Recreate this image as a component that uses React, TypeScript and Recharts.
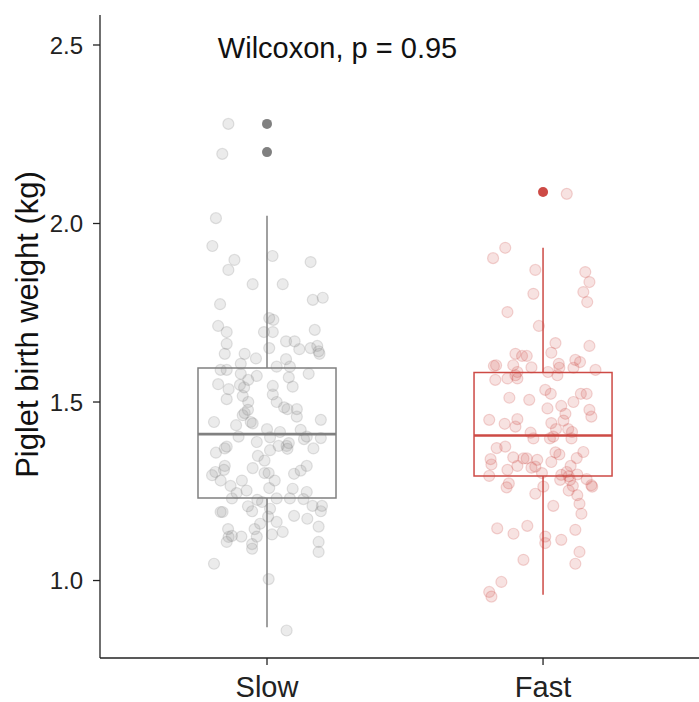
import {
  ComposedChart,
  Scatter,
  XAxis,
  YAxis,
  ReferenceArea,
  ReferenceLine,
  ReferenceDot,
} from 'recharts';

const categories = ['Slow', 'Fast'];
const yTicks = [1.0, 1.5, 2.0, 2.5];
const colors = ['#808080', '#CD4A45'];

// box statistics per group (kg)
const boxStats = [
  { lower: 0.869, q1: 1.231, median: 1.41, q3: 1.595, upper: 2.022 },
  { lower: 0.96, q1: 1.293, median: 1.406, q3: 1.583, upper: 1.932 },
];

const slowOutliers = [2.279, 2.2];
const fastOutliers = [2.088];

// jittered raw points: [x offset from group centre, weight]
const slowPoints: [number, number][] = [
  [-0.14, 2.279], [-0.162, 2.195], [-0.185, 2.015], [-0.198, 1.937], [-0.118, 1.898],
  [-0.14, 1.87], [0.02, 1.909], [0.158, 1.892], [-0.052, 1.83], [0.057, 1.83],
  [-0.17, 1.774], [0.166, 1.786], [0.202, 1.792], [-0.177, 1.713], [-0.146, 1.696],
  [0.008, 1.735], [0.023, 1.73], [-0.011, 1.696], [0.021, 1.696], [0.173, 1.702],
  [-0.146, 1.663], [-0.153, 1.635], [-0.081, 1.635], [-0.04, 1.622], [0.008, 1.651],
  [0.069, 1.67], [0.1, 1.67], [0.117, 1.648], [0.158, 1.651], [0.182, 1.657],
  [0.187, 1.642], [0.19, 1.635], [0.069, 1.62], [-0.095, 1.607], [0.035, 1.599],
  [0.083, 1.599], [-0.168, 1.59], [-0.146, 1.59], [-0.095, 1.579], [0.151, 1.579],
  [-0.068, 1.562], [-0.037, 1.573], [0.079, 1.569], [-0.177, 1.55], [-0.139, 1.536],
  [-0.098, 1.548], [-0.083, 1.541], [0.021, 1.545], [0.093, 1.543], [-0.146, 1.508],
  [-0.088, 1.517], [0.021, 1.521], [-0.068, 1.5], [0.035, 1.5], [-0.069, 1.478],
  [0.062, 1.485], [0.074, 1.48], [0.108, 1.48], [-0.088, 1.463], [-0.081, 1.469],
  [0.108, 1.459], [-0.192, 1.444], [-0.059, 1.444], [-0.052, 1.44], [0.195, 1.45],
  [-0.112, 1.435], [0.0, 1.424], [0.047, 1.416], [0.122, 1.422], [0.144, 1.403],
  [0.134, 1.396], [-0.103, 1.403], [-0.037, 1.388], [0.011, 1.401], [0.071, 1.377],
  [0.079, 1.385], [0.195, 1.399], [-0.146, 1.375], [-0.153, 1.37], [0.042, 1.377],
  [0.168, 1.37], [-0.185, 1.358], [0.011, 1.365], [0.074, 1.369], [-0.033, 1.349],
  [-0.009, 1.336], [-0.153, 1.321], [-0.156, 1.31], [-0.052, 1.315], [-0.187, 1.304],
  [-0.199, 1.295], [-0.168, 1.28], [-0.091, 1.28], [-0.009, 1.301], [0.006, 1.301],
  [0.028, 1.28], [0.098, 1.299], [0.122, 1.308], [0.144, 1.321], [-0.132, 1.265],
  [-0.074, 1.252], [0.008, 1.259], [0.093, 1.257], [0.144, 1.248], [-0.11, 1.245],
  [-0.127, 1.23], [-0.035, 1.226], [-0.018, 1.22], [0.035, 1.23], [0.083, 1.23],
  [0.132, 1.228], [-0.069, 1.208], [-0.054, 1.194], [-0.168, 1.192], [-0.161, 1.192],
  [0.011, 1.201], [0.004, 1.179], [0.165, 1.209], [0.199, 1.209], [0.195, 1.194],
  [0.098, 1.181], [0.146, 1.173], [0.035, 1.164], [-0.025, 1.159], [0.187, 1.151],
  [-0.141, 1.144], [-0.045, 1.144], [0.057, 1.136], [0.018, 1.129], [-0.139, 1.122],
  [-0.127, 1.125], [-0.093, 1.123], [-0.037, 1.123], [-0.146, 1.108], [-0.054, 1.102],
  [-0.054, 1.089], [0.187, 1.108], [0.187, 1.08], [-0.192, 1.047], [0.006, 1.004],
  [0.071, 0.86],
];

const fastPoints: [number, number][] = [
  [0.086, 2.083], [-0.137, 1.932], [-0.181, 1.903], [-0.028, 1.87], [0.153, 1.864],
  [0.168, 1.836], [-0.035, 1.803], [0.146, 1.808], [0.16, 1.78], [-0.129, 1.752],
  [-0.015, 1.713], [0.045, 1.665], [0.168, 1.657], [0.03, 1.638], [-0.1, 1.635],
  [-0.076, 1.629], [-0.059, 1.629], [0.117, 1.618], [0.134, 1.612], [-0.178, 1.601],
  [-0.17, 1.603], [-0.108, 1.603], [-0.042, 1.597], [0.057, 1.607], [0.059, 1.596],
  [0.11, 1.596], [0.19, 1.59], [-0.093, 1.584], [-0.1, 1.575], [0.018, 1.584],
  [0.052, 1.575], [-0.173, 1.562], [-0.129, 1.566], [-0.093, 1.566], [-0.122, 1.512],
  [-0.05, 1.506], [0.008, 1.534], [0.028, 1.523], [0.137, 1.523], [0.158, 1.523],
  [0.11, 1.5], [0.066, 1.489], [0.081, 1.467], [0.016, 1.482], [0.168, 1.478],
  [0.175, 1.459], [-0.195, 1.45], [-0.139, 1.439], [-0.093, 1.452], [-0.1, 1.431],
  [0.074, 1.448], [0.03, 1.441], [0.047, 1.424], [-0.045, 1.414], [-0.035, 1.398],
  [0.025, 1.398], [0.037, 1.403], [0.091, 1.424], [0.105, 1.416], [0.103, 1.398],
  [-0.168, 1.371], [-0.137, 1.375], [-0.19, 1.34], [-0.187, 1.325], [-0.108, 1.345],
  [-0.071, 1.342], [-0.059, 1.342], [-0.021, 1.338], [0.045, 1.359], [0.059, 1.353],
  [0.146, 1.36], [0.122, 1.343], [0.03, 1.332], [-0.093, 1.321], [-0.129, 1.31],
  [-0.042, 1.316], [-0.028, 1.319], [0.1, 1.321], [0.086, 1.304], [-0.195, 1.293],
  [-0.004, 1.301], [0.066, 1.296], [0.093, 1.292], [0.124, 1.297], [0.158, 1.284],
  [0.175, 1.267], [-0.124, 1.272], [-0.132, 1.261], [0.001, 1.263], [0.062, 1.282],
  [0.098, 1.282], [0.108, 1.265], [0.093, 1.252], [-0.028, 1.243], [0.124, 1.239],
  [0.178, 1.263], [0.132, 1.215], [0.037, 1.209], [0.139, 1.187], [-0.166, 1.146],
  [-0.057, 1.153], [-0.107, 1.131], [0.117, 1.142], [0.008, 1.123], [0.008, 1.105],
  [0.066, 1.114], [0.132, 1.08], [-0.071, 1.058], [0.117, 1.047], [-0.151, 0.996],
  [-0.195, 0.968], [-0.187, 0.955],
];

const annotation = { text: 'Wilcoxon, p = 0.95', x: 0.822, y: 2.5 };

const groups = [slowPoints, fastPoints];
const outliers = [slowOutliers, fastOutliers];

const pointData = groups.map((pts, i) => pts.map(([dx, v]) => ({ x: i + 1 + dx, y: v })));
const outlierData = outliers.map((vals, i) => vals.map((v) => ({ x: i + 1, y: v })));

const BOX_HALF = 0.25;
const FONT = '"Liberation Sans", Arial, sans-serif';

export default function App() {
  return (
    <div style={{ position: 'absolute', left: 0, top: 0, width: 699, height: 702, fontFamily: FONT, background: '#fff' }}>
      <ComposedChart width={699} height={702} margin={{ top: 15, right: 0, bottom: 0, left: 0 }}>
        <XAxis
          type="number"
          dataKey="x"
          domain={[0.395, 2.565]}
          ticks={[1, 2]}
          tickFormatter={(v: number) => categories[v - 1]}
          allowDataOverflow
          height={44}
          tickSize={7}
          tickMargin={11}
          stroke="#222"
          strokeWidth={1.3}
          tick={{ fill: '#222', fontSize: 29 }}
        />
        <YAxis
          type="number"
          dataKey="y"
          domain={[0.783, 2.584]}
          ticks={yTicks}
          tickFormatter={(v: number) => v.toFixed(1)}
          allowDataOverflow
          width={100}
          tickSize={7}
          tickMargin={10}
          stroke="#222"
          strokeWidth={1.3}
          tick={{ fill: '#222', fontSize: 24 }}
          label={(props: any) => {
            const vb = props.viewBox;
            const cx = vb.x + 38;
            const cy = vb.y + vb.height / 2 - 12;
            return (
              <text x={cx} y={cy} transform={`rotate(-90 ${cx} ${cy})`} textAnchor="middle" fontSize={31} fill="#111">
                Piglet birth weight (kg)
              </text>
            );
          }}
        />

        {boxStats.map((b, i) => (
          <ReferenceArea
            key={`box-${i}`}
            x1={i + 1 - BOX_HALF}
            x2={i + 1 + BOX_HALF}
            y1={b.q1}
            y2={b.q3}
            fill="#fff"
            fillOpacity={0}
            stroke={colors[i]}
            strokeWidth={1.5}
            strokeOpacity={1}
          />
        ))}
        {boxStats.map((b, i) => (
          <ReferenceLine
            key={`med-${i}`}
            segment={[{ x: i + 1 - BOX_HALF, y: b.median }, { x: i + 1 + BOX_HALF, y: b.median }]}
            stroke={colors[i]}
            strokeWidth={2.6}
          />
        ))}
        {boxStats.map((b, i) => (
          <ReferenceLine
            key={`wu-${i}`}
            segment={[{ x: i + 1, y: b.q3 }, { x: i + 1, y: b.upper }]}
            stroke={colors[i]}
            strokeWidth={1.5}
          />
        ))}
        {boxStats.map((b, i) => (
          <ReferenceLine
            key={`wl-${i}`}
            segment={[{ x: i + 1, y: b.lower }, { x: i + 1, y: b.q1 }]}
            stroke={colors[i]}
            strokeWidth={1.5}
          />
        ))}

        {outlierData.map((d, i) => (
          <Scatter
            key={`out-${i}`}
            data={d}
            isAnimationActive={false}
            shape={(p: any) => <circle cx={p.cx} cy={p.cy} r={5} fill={colors[i]} />}
          />
        ))}
        {pointData.map((d, i) => (
          <Scatter
            key={`pts-${i}`}
            data={d}
            isAnimationActive={false}
            shape={(p: any) => (
              <circle
                cx={p.cx}
                cy={p.cy}
                r={5.5}
                fill={colors[i]}
                fillOpacity={0.16}
                stroke={colors[i]}
                strokeOpacity={0.22}
                strokeWidth={1.2}
              />
            )}
          />
        ))}

        <ReferenceDot
          x={annotation.x}
          y={annotation.y}
          r={0}
          shape={(p: any) => (
            <text x={p.cx} y={p.cy + 13} fontSize={29} fill="#111">
              {annotation.text}
            </text>
          )}
        />
      </ComposedChart>
    </div>
  );
}
